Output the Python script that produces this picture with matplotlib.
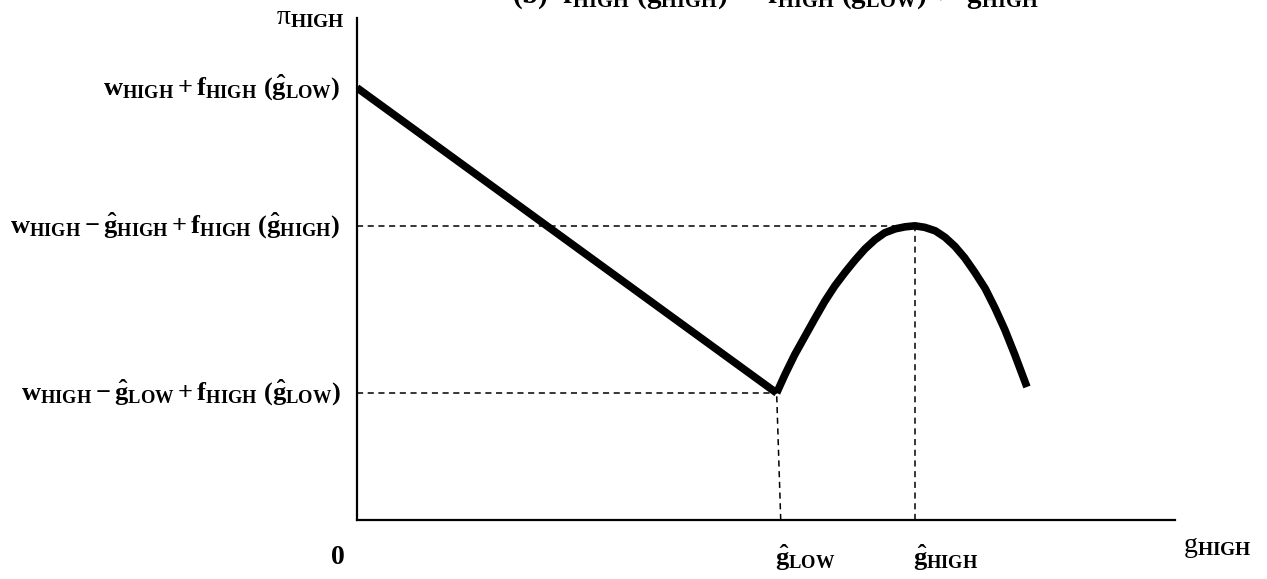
import numpy as np
import matplotlib
matplotlib.use('Agg')
from matplotlib import pyplot as plt

# axis scale: x and y run 0..10 in abstract units
g_low = 5.13
g_high = 6.82

# straight payoff segment, from the y axis down to g_low
line_x = [0.0, 5.13]
line_y = [8.61, 2.53]

# hump-shaped segment
curve_x = [5.13, 5.23, 5.35, 5.48, 5.60, 5.72, 5.84, 5.97, 6.09, 6.21, 6.33, 6.45, 6.58,
           6.70, 6.82, 6.94, 7.07, 7.19, 7.31, 7.43, 7.55, 7.68, 7.80, 7.92, 8.04, 8.19]
curve_y = [2.53, 2.89, 3.29, 3.67, 4.02, 4.36, 4.66, 4.94, 5.18, 5.40, 5.58, 5.72, 5.80,
           5.84, 5.86, 5.83, 5.76, 5.63, 5.45, 5.22, 4.94, 4.61, 4.22, 3.79, 3.30, 2.65]

y_ticks = [8.61, 5.86, 2.53]
y_labels = [
    r'$\mathbf{w_{HIGH} + f_{HIGH}\ (\hat{g}_{LOW})}$',
    r'$\mathbf{w_{HIGH} - \hat{g}_{HIGH} + f_{HIGH}\ (\hat{g}_{HIGH})}$',
    r'$\mathbf{w_{HIGH} - \hat{g}_{LOW} + f_{HIGH}\ (\hat{g}_{LOW})}$',
]
x_labels = [r'$\mathbf{\hat{g}_{LOW}}$', r'$\mathbf{\hat{g}_{HIGH}}$']
title = r'$\mathbf{(b)\ \ f_{HIGH}\ (\hat{g}_{HIGH})\ -\ f_{HIGH}\ (\hat{g}_{LOW})\ >\ \hat{g}_{HIGH}}$'

plt.rcParams['mathtext.fontset'] = 'custom'
plt.rcParams['mathtext.rm'] = 'Liberation Serif'
plt.rcParams['mathtext.it'] = 'Liberation Serif'
plt.rcParams['mathtext.bf'] = 'Liberation Serif:bold'
plt.rcParams['font.family'] = ['Liberation Serif', 'DejaVu Serif']

W, H = 1267, 579
fig = plt.figure(figsize=(W / 100, H / 100), dpi=100)
x0, x1, y0, y1 = 357, 1175, 520, 18
ax = fig.add_axes([x0 / W, (H - y0) / H, (x1 - x0) / W, (y0 - y1) / H])
ax.set_xlim(0, 10)
ax.set_ylim(0, 10)
for s in ['top', 'right']:
    ax.spines[s].set_visible(False)
for s in ['left', 'bottom']:
    ax.spines[s].set_linewidth(1.6)
    ax.spines[s].set_color('black')
ax.set_xticks([])
ax.set_yticks([])

dash = dict(color='black', lw=1.1, ls=(0, (4, 3)), zorder=1)
ax.plot([0, g_high], [curve_y[14]] * 2, **dash)
ax.plot([0, g_low], [line_y[1]] * 2, **dash)
ax.plot([g_high, g_high], [0, curve_y[14]], **dash)
ax.plot([g_low + 0.05, g_low], [0, line_y[1]], **dash)

ax.plot(line_x, line_y, color='black', lw=5.5, solid_capstyle='butt', zorder=3)
ax.plot(curve_x, curve_y, color='black', lw=5.5, solid_capstyle='butt',
        solid_joinstyle='round', zorder=3)

for yv, lab in zip(y_ticks, y_labels):
    ax.text(-0.2, yv, lab, ha='right', va='center', fontsize=19)

ax.text(-0.15, 10.0, r'$\pi_{\mathbf{HIGH}}$', ha='right', va='center', fontsize=20)
ax.text(-0.15, -0.75, r'$\mathbf{0}$', ha='right', va='center', fontsize=20)
ax.text(10.1, -0.55, r'$\mathrm{g}_{\mathbf{HIGH}}$', ha='left', va='center', fontsize=20)
for xv, lab in zip([g_low, g_high], x_labels):
    ax.text(xv - 0.02, -0.75, lab, ha='left', va='center', fontsize=19)

fig.text(0.612, 1 - 3 / H, title, ha='center', va='baseline', fontsize=21)

fig.savefig('out.png', dpi=100)
